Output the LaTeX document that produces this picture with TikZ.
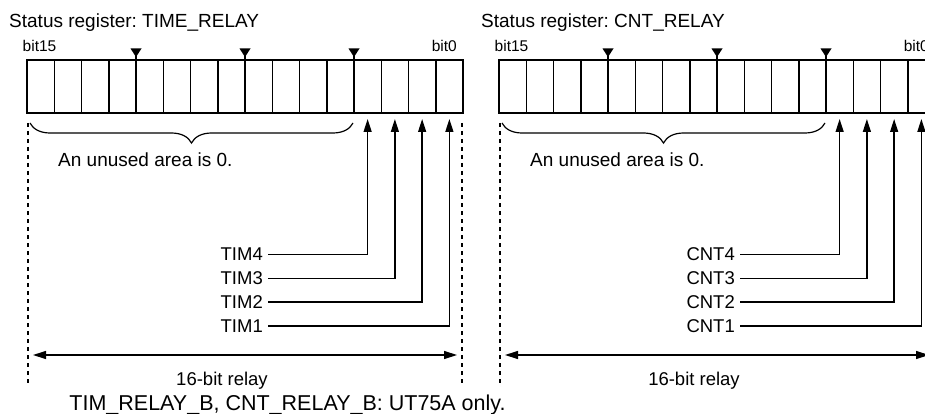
\documentclass[tikz,border=0pt]{standalone}
\usepackage{fontspec}
\setmainfont{Liberation Sans}
\usetikzlibrary{arrows.meta,decorations.pathreplacing}
\frenchspacing
\tikzset{
  titletext/.style={font=\fontsize{19}{22}\selectfont, inner sep=0pt},
  bittext/.style={font=\fontsize{15.5}{18}\selectfont, inner sep=0pt},
  lbltext/.style={font=\fontsize{18.5}{22}\selectfont, inner ysep=0pt, inner xsep=5pt},
  notetext/.style={font=\fontsize{19}{22}\selectfont, inner sep=0pt},
  foottext/.style={font=\fontsize{21.5}{25}\selectfont, inner sep=0pt},
  cellbox/.style={draw, line width=1.5pt, minimum width=27.25pt, minimum height=53pt, inner sep=0pt, outer sep=0pt},
  feed/.style={line width=1.3pt, -{Triangle[length=13pt,width=8pt]}},
  span/.style={line width=1.3pt, {Triangle[length=13pt,width=8pt]}-{Triangle[length=13pt,width=8pt]}, shorten <=5pt, shorten >=5pt},
  guide/.style={line width=1.2pt, dash pattern=on 4pt off 4pt},
  bracestyle/.style={line width=1.2pt, decorate, decoration={brace, mirror, amplitude=20pt}},
}
\newcommand\drawregister[4]{%
  \begin{scope}[xshift=#1pt]
    \node[titletext, anchor=base west] (#3title) at (9,28) {Status register: #2};
    \node[bittext, anchor=base west] (#3b15) at (22.5,52) {bit15};
    \node[bittext, anchor=base east] (#3b0) at (457,52) {bit0};
    \foreach \b in {0,...,15}{
      \node[cellbox] (#3c\b) at ({27+(15-\b+0.5)*27.25},86.5) {};
    }
    \foreach \b in {12,8,4}{
      \draw[line width=1.5pt] (#3c\b.north east) -- ++(0,-4);
      \fill ([yshift=3pt]#3c\b.north east) -- ++(-5.5,-8.5) -- ++(11,0) -- cycle;
    }
    \draw[bracestyle] ([xshift=3pt,yshift=-10pt]#3c15.south west) -- ([xshift=-1pt,yshift=-10pt]#3c4.south east);
    \node[notetext, anchor=base west] (#3unused) at (58,167) {An unused area is 0.};
    \foreach \i in {1,...,4}{
      \pgfmathtruncatemacro\bb{\i-1}
      \node[lbltext, anchor=east] (#3t\i) at (268,{254.5+(4-\i)*23.8}) {#4\i};
      \draw[feed] (#3t\i.east) -| ([yshift=-6pt]#3c\bb.south);
    }
    \coordinate (#3dla) at (28,123);
    \coordinate (#3dlb) at (28,383);
    \coordinate (#3dra) at (462,123);
    \coordinate (#3drb) at (462,383);
    \draw[guide] (#3dla) -- (#3dlb);
    \draw[guide] (#3dra) -- (#3drb);
    \coordinate (#3sl) at (28,355);
    \coordinate (#3sr) at (462,355);
    \draw[span] (#3sl) -- (#3sr);
    \node[notetext, font=\fontsize{18.5}{22}\selectfont, anchor=base] (#3relay) at (222,385) {16-bit relay};
  \end{scope}%
}
\begin{document}
\begin{tikzpicture}[x=1pt,y=-1pt]
  \useasboundingbox (0,0) rectangle (925,414);
  \clip (0,0) rectangle (925,414);
  \drawregister{0}{TIME\_RELAY}{L}{TIM}
  \drawregister{472}{CNT\_RELAY}{R}{CNT}
  \node[foottext, anchor=base] (foot) at (287.5,410) {TIM\_RELAY\_B, CNT\_RELAY\_B: UT75A only.};
\end{tikzpicture}
\end{document}
